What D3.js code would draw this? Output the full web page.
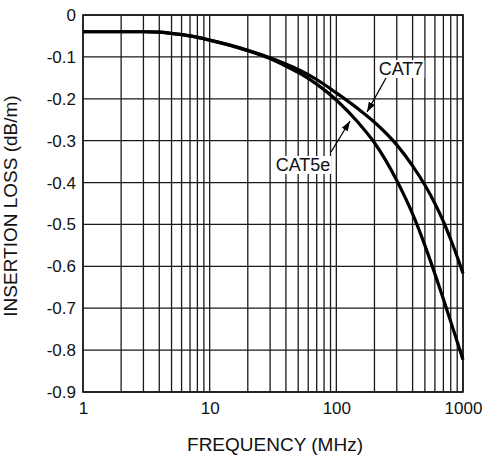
<!DOCTYPE html>
<html><head><meta charset="utf-8">
<script src="https://cdn.jsdelivr.net/npm/d3@7"></script>
<style>
html,body{margin:0;padding:0;background:#fff;}
svg{display:block;font-family:"Liberation Sans",Arial,Helvetica,sans-serif;}
</style></head>
<body>
<svg id="chart" width="485" height="457"></svg>
<script>
const freq = [1, 2, 3, 4, 5, 7, 10, 15, 20, 30, 40, 50, 70, 100, 150, 200, 300, 400, 500, 600, 700, 800, 900, 1000];
const cat7 = [-0.04, -0.04, -0.04, -0.041, -0.044, -0.05, -0.06, -0.073, -0.084, -0.102, -0.117, -0.130, -0.154, -0.186, -0.225, -0.256, -0.31, -0.36, -0.406, -0.45, -0.493, -0.536, -0.577, -0.617];
const cat5e = [-0.04, -0.04, -0.04, -0.041, -0.044, -0.05, -0.06, -0.074, -0.085, -0.104, -0.122, -0.137, -0.165, -0.203, -0.258, -0.305, -0.395, -0.475, -0.55, -0.618, -0.678, -0.732, -0.78, -0.823];
const xTickLabels = [1, 10, 100, 1000];
const yTicks = [0, -0.1, -0.2, -0.3, -0.4, -0.5, -0.6, -0.7, -0.8, -0.9];
const xTitle = "FREQUENCY (MHz)";
const yTitle = "INSERTION LOSS (dB/m)";

const svg = d3.select("#chart");
const m = {l: 83, t: 15, r: 22, b: 65};
const W = 485 - m.l - m.r, H = 457 - m.t - m.b;
const x = d3.scaleLog().domain([1, 1000]).range([0, W]);
const y = d3.scaleLinear().domain([-0.9, 0]).range([H, 0]);
const g = svg.append("g").attr("transform", `translate(${m.l},${m.t})`);

// vertical grid: minor log lines
const vGrid = [];
for (let d = 1; d < 1000; d *= 10) for (let k = 1; k <= 10; k++) vGrid.push(d * k);
const gridColor = "#1a1a1a";
g.append("g").selectAll("line").data(Array.from(new Set(vGrid))).join("line")
  .attr("x1", d => x(d)).attr("x2", d => x(d)).attr("y1", 0).attr("y2", H)
  .attr("stroke", gridColor).attr("stroke-width", 1.3);
g.append("g").selectAll("line").data(yTicks).join("line")
  .attr("x1", 0).attr("x2", W).attr("y1", d => y(d)).attr("y2", d => y(d))
  .attr("stroke", gridColor).attr("stroke-width", 1.3);
g.append("rect").attr("x", 0).attr("y", 0).attr("width", W).attr("height", H)
  .attr("fill", "none").attr("stroke", gridColor).attr("stroke-width", 1.6);

// axes (labels only)
const yAxis = d3.axisLeft(y).tickValues(yTicks).tickSize(0).tickPadding(7)
  .tickFormat(d => d === 0 ? "0" : d3.format(".1f")(d).replace("−", "-"));
const ya = g.append("g").call(yAxis);
ya.select(".domain").remove();
ya.selectAll("text").attr("font-size", 17).attr("fill", "#111");
ya.attr("font-family", null);

const xAxis = d3.axisBottom(x).tickValues(xTickLabels).tickSize(0).tickPadding(10)
  .tickFormat(d3.format("d"));
const xa = g.append("g").attr("transform", `translate(0,${H})`).call(xAxis);
xa.select(".domain").remove();
xa.selectAll("text").attr("font-size", 17).attr("fill", "#111");
xa.attr("font-family", null);

// curves
const line = d3.line().x(d => x(d[0])).y(d => y(d[1])).curve(d3.curveMonotoneX);
[cat7, cat5e].forEach(s => {
  g.append("path").datum(freq.map((f, i) => [f, s[i]]))
    .attr("d", line).attr("fill", "none").attr("stroke", "#000").attr("stroke-width", 3.2);
});

// labels with arrows
svg.append("defs").append("marker").attr("id", "ah").attr("viewBox", "0 0 10 10")
  .attr("refX", 10).attr("refY", 5).attr("markerWidth", 10).attr("markerHeight", 10)
  .attr("markerUnits", "userSpaceOnUse").attr("orient", "auto")
  .append("path").attr("d", "M0,1.5 L10,5 L0,8.5 Z").attr("fill", "#000");

function label(text, cx, cy, fx, fy, tx, ty) {
  const grp = svg.append("g");
  const t = grp.append("text").attr("x", cx).attr("y", cy).attr("text-anchor", "middle")
    .attr("dominant-baseline", "central").attr("font-size", 18).attr("fill", "#111").text(text);
  const bb = t.node().getBBox();
  grp.insert("rect", "text").attr("x", bb.x - 1).attr("y", bb.y + 1)
    .attr("width", bb.width + 2).attr("height", bb.height - 2).attr("fill", "#fff");
  svg.append("line").attr("x1", fx).attr("y1", fy).attr("x2", tx).attr("y2", ty)
    .attr("stroke", "#000").attr("stroke-width", 1.3).attr("marker-end", "url(#ah)");
}
label("CAT7", 401, 69, 386, 78, 367, 112);
label("CAT5e", 303, 165, 331, 152, 350, 121);

// titles
svg.append("text").attr("x", 275).attr("y", 451).attr("text-anchor", "middle")
  .attr("font-size", 19).attr("fill", "#111").text(xTitle);
svg.append("text").attr("transform", `translate(17,206) rotate(-90)`)
  .attr("text-anchor", "middle").attr("font-size", 19).attr("fill", "#111").text(yTitle);
</script>
</body></html>
